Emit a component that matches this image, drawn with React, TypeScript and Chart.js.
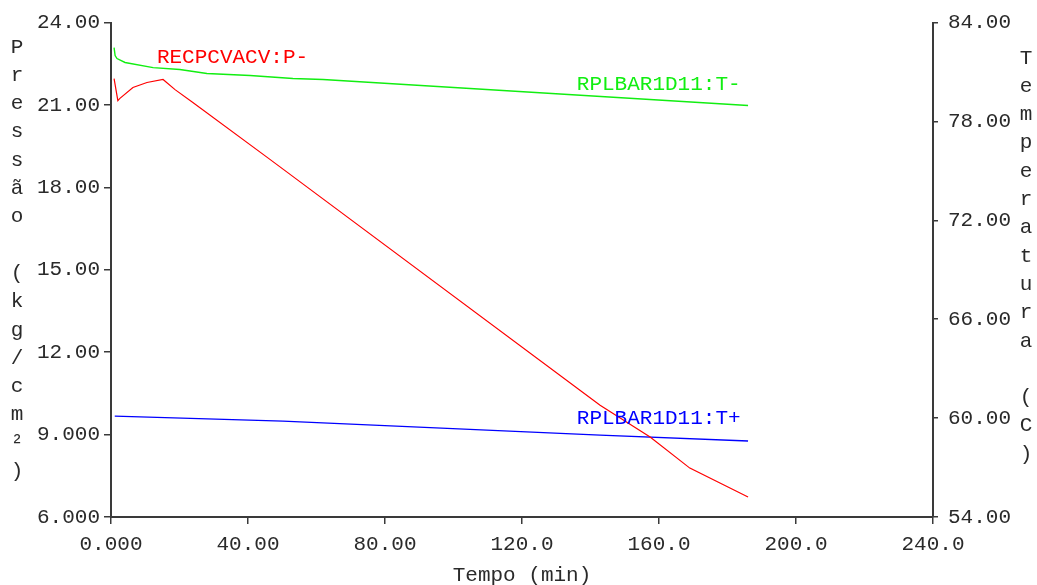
import React, { useEffect, useRef } from 'react';
import { Chart, registerables } from 'chart.js';

Chart.register(...registerables);

// ---- data ----
const timeTickLabels = ['0.000', '40.00', '80.00', '120.0', '160.0', '200.0', '240.0'];
const pressureTickLabels = ['6.000', '9.000', '12.00', '15.00', '18.00', '21.00', '24.00'];
const tempTickLabels = ['54.00', '60.00', '66.00', '72.00', '78.00', '84.00'];

const pressureTime = [0.9, 2.0, 2.6, 6.4, 10.5, 15.2, 18.7, 23.9, 46.4, 142.8, 157.4, 169.0, 186.0];
const pressureValues = [21.96, 21.16, 21.24, 21.64, 21.82, 21.93, 21.56, 21.09, 19.02, 10.07, 8.91, 7.78, 6.73];

const tempMinusTime = [0.9, 1.2, 1.75, 4.1, 12.3, 20.1, 28.0, 40.6, 53.1, 61.9, 186.0];
const tempMinusValues = [82.48, 82.0, 81.82, 81.58, 81.27, 81.15, 80.91, 80.79, 80.61, 80.55, 78.97];

const tempPlusTime = [1.1, 50.2, 142.8, 186.0];
const tempPlusValues = [60.12, 59.82, 58.97, 58.61];

const seriesNames = ['RECPCVACV:P-', 'RPLBAR1D11:T-', 'RPLBAR1D11:T+'];
const seriesColors = ['#ff0000', '#11ee11', '#0000ff'];
// label anchors in data units [time, value]
const labelAnchors = [
  [13.4, 22.73],
  [136.0, 80.24],
  [136.0, 60.0],
];

const leftTitle = 'Pressão (kg/cm²)';
const rightTitle = 'Temperatura (C)';
const bottomTitle = 'Tempo (min)';

const FONT_FAMILY = "'Liberation Mono', 'Courier New', monospace";
const FONT_SIZE = 21;
const AXIS_COLOR = '#3a3a3a';
const TEXT_COLOR = '#2a2a2a';

const zip = (xs: number[], ys: number[]) => xs.map((x, i) => ({ x, y: ys[i] }));

const overlayPlugin = {
  id: 'overlayText',
  afterDraw(chart: any) {
    const ctx = chart.ctx as CanvasRenderingContext2D;
    const xs = chart.scales.x;
    const yp = chart.scales.yP;
    const yt = chart.scales.yT;
    const area = chart.chartArea;
    ctx.save();
    ctx.font = `${FONT_SIZE}px ${FONT_FAMILY}`;
    ctx.fillStyle = TEXT_COLOR;
    ctx.textAlign = 'center';
    ctx.textBaseline = 'middle';
    const step = 28.3;
    Array.from(leftTitle).forEach((ch, i) => ctx.fillText(ch, 17, 47 + i * step));
    Array.from(rightTitle).forEach((ch, i) => ctx.fillText(ch, 1026, 58 + i * step));
    ctx.fillText(bottomTitle, (area.left + area.right) / 2, 575);

    ctx.textAlign = 'left';
    const scalesFor = [yp, yt, yt];
    seriesNames.forEach((name, i) => {
      ctx.fillStyle = seriesColors[i];
      const [t, v] = labelAnchors[i];
      ctx.fillText(name, xs.getPixelForValue(t), scalesFor[i].getPixelForValue(v));
    });
    ctx.restore();
  },
};

export default function App() {
  const canvasRef = useRef<HTMLCanvasElement | null>(null);

  useEffect(() => {
    if (!canvasRef.current) return;
    const font = { family: FONT_FAMILY, size: FONT_SIZE };
    const chart = new Chart(canvasRef.current, {
      type: 'line',
      data: {
        datasets: [
          {
            label: seriesNames[0],
            data: zip(pressureTime, pressureValues),
            borderColor: seriesColors[0],
            borderWidth: 1.2,
            pointRadius: 0,
            yAxisID: 'yP',
            tension: 0,
          },
          {
            label: seriesNames[1],
            data: zip(tempMinusTime, tempMinusValues),
            borderColor: seriesColors[1],
            borderWidth: 1.4,
            pointRadius: 0,
            yAxisID: 'yT',
            tension: 0,
          },
          {
            label: seriesNames[2],
            data: zip(tempPlusTime, tempPlusValues),
            borderColor: seriesColors[2],
            borderWidth: 1.4,
            pointRadius: 0,
            yAxisID: 'yT',
            tension: 0,
          },
        ],
      },
      options: {
        animation: false,
        responsive: true,
        maintainAspectRatio: false,
        layout: { padding: { top: 22, left: 0, right: 0, bottom: 0 } },
        plugins: {
          legend: { display: false },
          tooltip: { enabled: false },
          title: { display: false },
        },
        scales: {
          x: {
            type: 'linear',
            position: 'bottom',
            min: 0,
            max: 240,
            afterFit: (s: any) => {
              s.height = 68;
            },
            ticks: {
              stepSize: 40,
              font,
              color: TEXT_COLOR,
              padding: 8,
              maxRotation: 0,
              autoSkip: false,
              callback: (_v: any, i: number) => timeTickLabels[i],
            },
            grid: { drawOnChartArea: false, drawTicks: true, tickLength: 7, color: AXIS_COLOR, lineWidth: 1.5 },
            border: { display: true, color: AXIS_COLOR, width: 2 },
          },
          yP: {
            type: 'linear',
            position: 'left',
            min: 6,
            max: 24,
            afterFit: (s: any) => {
              s.width = 111;
            },
            ticks: {
              stepSize: 3,
              font,
              color: TEXT_COLOR,
              padding: 4,
              autoSkip: false,
              callback: (_v: any, i: number) => pressureTickLabels[i],
            },
            grid: { drawOnChartArea: false, drawTicks: true, tickLength: 7, color: AXIS_COLOR, lineWidth: 1.5 },
            border: { display: true, color: AXIS_COLOR, width: 2 },
          },
          yT: {
            type: 'linear',
            position: 'right',
            min: 54,
            max: 84,
            afterFit: (s: any) => {
              s.width = 104;
            },
            ticks: {
              stepSize: 6,
              font,
              color: TEXT_COLOR,
              padding: 10,
              autoSkip: false,
              callback: (_v: any, i: number) => tempTickLabels[i],
            },
            grid: { drawOnChartArea: false, drawTicks: true, tickLength: 5, color: AXIS_COLOR, lineWidth: 1.5 },
            border: { display: true, color: AXIS_COLOR, width: 2 },
          },
        },
      },
      plugins: [overlayPlugin],
    } as any);
    return () => chart.destroy();
  }, []);

  return (
    <div style={{ position: 'absolute', left: 0, top: 0, width: 1037, height: 585, background: '#fff' }}>
      <canvas ref={canvasRef} />
    </div>
  );
}
